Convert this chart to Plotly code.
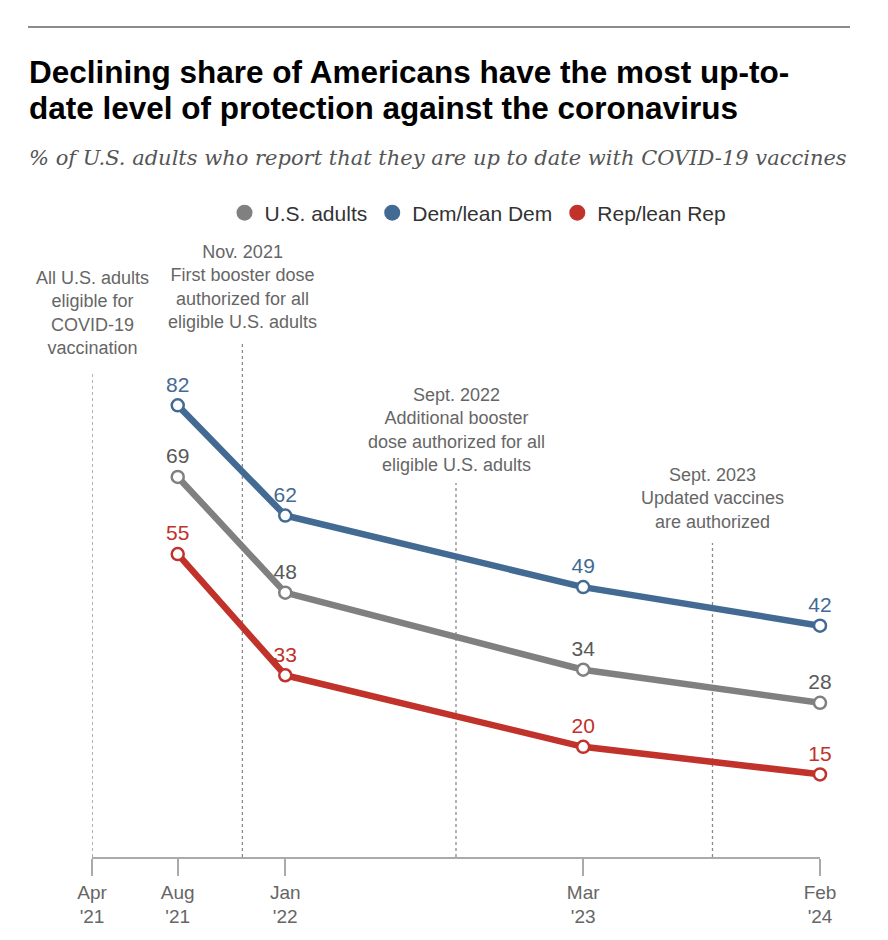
import plotly.graph_objects as go

# ---- data ----
dates = ["2021-08-01", "2022-01-01", "2023-03-01", "2024-02-01"]
tick_dates = ["2021-04-01", "2021-08-01", "2022-01-01", "2023-03-01", "2024-02-01"]
tick_labels = ["Apr<br>'21", "Aug<br>'21", "Jan<br>'22", "Mar<br>'23", "Feb<br>'24"]
us_adults = [69, 48, 34, 28]
dem = [82, 62, 49, 42]
rep = [55, 33, 20, 15]

event_dates = ["2021-04-01", "2021-11-01", "2022-09-01", "2023-09-01"]
event_texts = [
    "All U.S. adults<br>eligible for<br>COVID-19<br>vaccination",
    "Nov. 2021<br>First booster dose<br>authorized for all<br>eligible U.S. adults",
    "Sept. 2022<br>Additional booster<br>dose authorized for all<br>eligible U.S. adults",
    "Sept. 2023<br>Updated vaccines<br>are authorized",
]
title_lines = [
    "Declining share of Americans have the most up-to-",
    "date level of protection against the coronavirus",
]
subtitle = "% of U.S. adults who report that they are up to date with COVID-19 vaccines"

# ---- layout helpers (pixel positions) ----
W, H = 888, 940
ML, MR, MT, MB = 92, 68, 0, 83
PW = W - ML - MR
PH = H - MT - MB
YMAX = 155.6

def px(x):
    return (x - ML) / PW

def py(y):
    return 1 - (y - MT) / PH

event_text_top = [266, 240, 383, 463]     # pixel y of first text line top
event_line_top = [372, 343, 483, 543]     # pixel y of dotted line top

GRAY = "#808080"
BLUE = "#436a93"
RED = "#c0322a"
SANS = "Liberation Sans, Arial, sans-serif"

series = [
    ("U.S. adults", us_adults, GRAY, "#595959"),
    ("Dem/lean Dem", dem, BLUE, BLUE),
    ("Rep/lean Rep", rep, RED, RED),
]

fig = go.Figure()

for name, vals, col, tcol in series:
    fig.add_trace(go.Scatter(
        x=dates, y=vals, mode="lines+markers+text",
        text=[str(v) for v in vals], textposition="top center",
        textfont=dict(family=SANS, size=21, color=tcol),
        line=dict(color=col, width=6.5),
        marker=dict(size=12, color="white", line=dict(color=col, width=2.5)),
        showlegend=False, cliponaxis=False, hoverinfo="skip",
    ))

for name, vals, col, tcol in series:
    fig.add_trace(go.Scatter(
        x=[None], y=[None], mode="markers", name=name,
        marker=dict(size=19, color=col), showlegend=True,
    ))

for d, lt, tt, txt in zip(event_dates, event_line_top, event_text_top, event_texts):
    fig.add_shape(type="line", xref="x", yref="paper", x0=d, x1=d, y0=0, y1=py(lt),
                  line=dict(color="#8a8a8a", width=1.3, dash="dot"), layer="below")
    fig.add_annotation(x=d, y=py(tt), xref="x", yref="paper", text=txt, showarrow=False,
                       xanchor="center", yanchor="top",
                       font=dict(family=SANS, size=18, color="#666666"))

# top rule
fig.add_shape(type="line", xref="paper", yref="paper", x0=px(28), x1=px(850),
              y0=py(27), y1=py(27), line=dict(color="#8c8c8c", width=2))

for line_text, yc in zip(title_lines, [72, 108]):
    fig.add_annotation(xref="paper", yref="paper", x=px(27), y=py(yc), xanchor="left", yanchor="middle",
                       align="left", showarrow=False, text="<b>" + line_text + "</b>",
                       font=dict(family=SANS, size=31.5, color="#000000"))
fig.add_annotation(xref="paper", yref="paper", x=px(27), y=py(158), xanchor="left", yanchor="middle",
                   align="left", showarrow=False, text="<i>" + subtitle + "</i>",
                   font=dict(family="DejaVu Serif, Georgia, serif", size=21, color="#555555"))

fig.update_layout(
    width=W, height=H,
    margin=dict(l=ML, r=MR, t=MT, b=MB),
    paper_bgcolor="white", plot_bgcolor="white",
    legend=dict(orientation="h", x=px(478), y=py(213), xanchor="center", yanchor="middle",
                font=dict(family=SANS, size=21, color="#333333"),
                itemwidth=30, traceorder="normal"),
    xaxis=dict(type="date", range=["2021-04-01", "2024-02-01"],
               tickvals=tick_dates, ticktext=tick_labels,
               showgrid=False, zeroline=False, showline=True, linecolor="#aaaaaa", linewidth=1.5,
               ticks="outside", ticklen=17, tickcolor="#aaaaaa", tickwidth=1.5,
               tickfont=dict(family=SANS, size=19, color="#666666")),
    yaxis=dict(range=[0, YMAX], visible=False, showgrid=False, zeroline=False),
)

fig.write_html("out.html", config={"displayModeBar": False},
               post_script="document.body.style.margin='0px';")
